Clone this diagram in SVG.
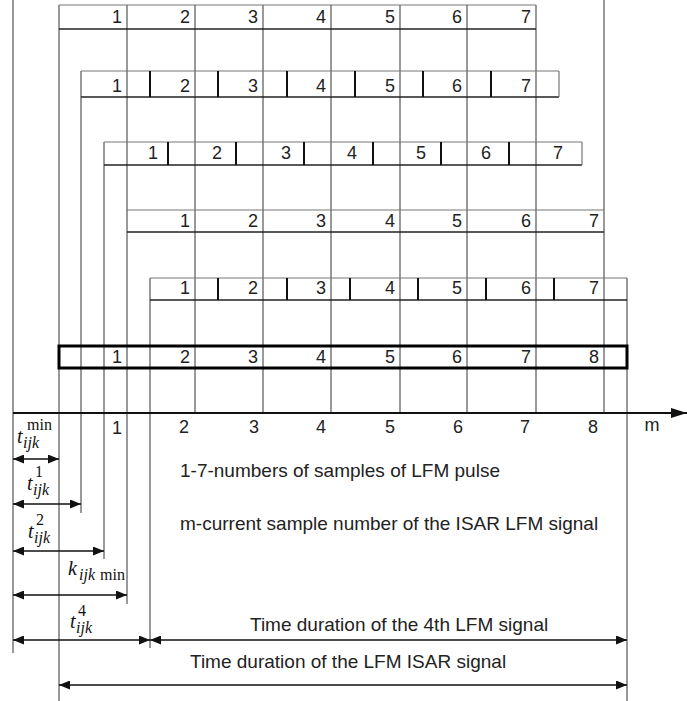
<svg xmlns="http://www.w3.org/2000/svg" width="687" height="701" viewBox="0 0 687 701">
<style>
.g{stroke:#555;stroke-width:1.2;fill:none}
.b{stroke:#222;stroke-width:1.5;fill:none}
.t{stroke:#777;stroke-width:1.2;fill:none}
.d{stroke:#111;stroke-width:2;fill:none}
.n{font-family:"Liberation Sans",Arial,sans-serif;font-size:18px;fill:#222;text-anchor:end}
.c{font-family:"Liberation Sans",Arial,sans-serif;font-size:18px;fill:#222;text-anchor:middle}
.l{font-family:"Liberation Sans",Arial,sans-serif;font-size:19px;fill:#222}
.m{font-family:"Liberation Serif","Times New Roman",serif;fill:#111}
.ar{stroke:#111;stroke-width:1.3;fill:none}
</style>
<defs>
<marker id="ah" viewBox="0 0 11 9" refX="11" refY="4.5" markerWidth="11" markerHeight="9" orient="auto-start-reverse" markerUnits="userSpaceOnUse"><path d="M0,0 L11,4.5 L0,9 z" fill="#111"/></marker>
<marker id="axh" viewBox="0 0 16 10" refX="16" refY="5" markerWidth="16" markerHeight="10" orient="auto" markerUnits="userSpaceOnUse"><path d="M0,0 L16,5 L0,10 z" fill="#111"/></marker>
</defs>
<rect width="687" height="701" fill="#fff"/>

<g id="grid">
<line class="g" x1="13" y1="0" x2="13" y2="653"/>
<line class="g" x1="59" y1="5" x2="59" y2="701"/>
<line class="g" x1="81" y1="71" x2="81" y2="513"/>
<line class="g" x1="104" y1="142" x2="104" y2="559"/>
<line class="g" x1="127" y1="5" x2="127" y2="604"/>
<line class="g" x1="150" y1="278" x2="150" y2="648"/>
<line class="g" x1="195" y1="5" x2="195" y2="413"/>
<line class="g" x1="263" y1="5" x2="263" y2="413"/>
<line class="g" x1="331" y1="5" x2="331" y2="413"/>
<line class="g" x1="400" y1="5" x2="400" y2="413"/>
<line class="g" x1="467" y1="5" x2="467" y2="413"/>
<line class="g" x1="536" y1="5" x2="536" y2="413"/>
<line class="g" x1="604" y1="0" x2="604" y2="413"/>
<line class="g" x1="627" y1="278" x2="627" y2="701"/>
</g>

<g id="row1">
<line class="t" x1="59" y1="5" x2="536" y2="5"/>
<line class="b" x1="59" y1="29" x2="536" y2="29"/>
<text class="n" x="122" y="23">1</text><text class="n" x="190" y="23">2</text><text class="n" x="258" y="23">3</text><text class="n" x="326" y="23">4</text><text class="n" x="395" y="23">5</text><text class="n" x="462" y="23">6</text><text class="n" x="531" y="23">7</text>
</g>

<g id="row2">
<line class="t" x1="81" y1="71" x2="559" y2="71"/>
<line class="b" x1="81" y1="97" x2="559" y2="97"/>
<line class="t" x1="559" y1="71" x2="559" y2="97"/>
<path class="d" d="M150,71V97M218,71V97M287,71V97M355,71V97M423,71V97M491,71V97"/>
<text class="n" x="122" y="92">1</text><text class="n" x="190" y="92">2</text><text class="n" x="258" y="92">3</text><text class="n" x="326" y="92">4</text><text class="n" x="395" y="92">5</text><text class="n" x="462" y="92">6</text><text class="n" x="531" y="92">7</text>
</g>

<g id="row3">
<line class="t" x1="104" y1="142" x2="582" y2="142"/>
<line class="b" x1="104" y1="165" x2="582" y2="165"/>
<line class="t" x1="582" y1="142" x2="582" y2="165"/>
<path class="d" d="M168,142V165M236,142V165M304,142V165M373,142V165M441,142V165M509,142V165"/>
<text class="c" x="153" y="159">1</text><text class="c" x="217" y="159">2</text><text class="c" x="286" y="159">3</text><text class="c" x="352" y="159">4</text><text class="c" x="421" y="159">5</text><text class="c" x="486" y="159">6</text><text class="c" x="558" y="159">7</text>
</g>

<g id="row4">
<line class="t" x1="127" y1="210" x2="604" y2="210"/>
<line class="b" x1="127" y1="232" x2="604" y2="232"/>
<text class="n" x="190" y="227">1</text><text class="n" x="258" y="227">2</text><text class="n" x="326" y="227">3</text><text class="n" x="395" y="227">4</text><text class="n" x="462" y="227">5</text><text class="n" x="531" y="227">6</text><text class="n" x="599" y="227">7</text>
</g>

<g id="row5">
<line class="t" x1="150" y1="278" x2="627" y2="278"/>
<line class="b" x1="150" y1="300" x2="627" y2="300"/>
<path class="d" d="M218,278V300M287,278V300M350,278V300M418,278V300M486,278V300M554,278V300"/>
<text class="n" x="190" y="294">1</text><text class="n" x="258" y="294">2</text><text class="n" x="326" y="294">3</text><text class="n" x="395" y="294">4</text><text class="n" x="462" y="294">5</text><text class="n" x="531" y="294">6</text><text class="n" x="599" y="294">7</text>
</g>

<g id="row6">
<rect x="59" y="346" width="568" height="22" fill="none" stroke="#000" stroke-width="3"/>
<text class="n" x="122" y="363">1</text><text class="n" x="190" y="363">2</text><text class="n" x="258" y="363">3</text><text class="n" x="326" y="363">4</text><text class="n" x="395" y="363">5</text><text class="n" x="462" y="363">6</text><text class="n" x="531" y="363">7</text><text class="n" x="599" y="363">8</text>
</g>

<g id="axis">
<line x1="13" y1="413" x2="687" y2="413" stroke="#111" stroke-width="2.2" marker-end="url(#axh)"/>
<text class="c" x="117" y="434">1</text><text class="c" x="184" y="433">2</text><text class="c" x="254" y="433">3</text><text class="c" x="321" y="433">4</text><text class="c" x="390" y="433">5</text><text class="c" x="458" y="433">6</text><text class="c" x="525" y="433">7</text><text class="c" x="593" y="433">8</text><text class="c" x="652" y="431">m</text>
</g>

<g id="legend">
<text class="l" x="180" y="477">1-7-numbers of samples of LFM pulse</text>
<text class="l" x="180" y="530">m-current sample number of the ISAR LFM signal</text>
<text class="l" x="250" y="631">Time duration of the 4th LFM signal</text>
<text class="l" x="190" y="668">Time duration of the LFM ISAR signal</text>
</g>

<g id="labels">
<text class="m" x="17" y="443" font-style="italic" font-size="20">t</text>
<text class="m" x="23" y="448" font-style="italic" font-size="16">ijk</text>
<text class="m" x="27" y="430" font-size="16">min</text>

<text class="m" x="27" y="490" font-style="italic" font-size="20">t</text>
<text class="m" x="33" y="495" font-style="italic" font-size="16">ijk</text>
<text class="m" x="35" y="477" font-size="16">1</text>

<text class="m" x="28" y="538" font-style="italic" font-size="20">t</text>
<text class="m" x="34" y="543" font-style="italic" font-size="16">ijk</text>
<text class="m" x="36" y="525" font-size="16">2</text>

<text class="m" x="68" y="575" font-style="italic" font-size="20">k</text>
<text class="m" x="79" y="580" font-style="italic" font-size="16">ijk</text>
<text class="m" x="100" y="580" font-size="16">min</text>

<text class="m" x="70" y="628" font-style="italic" font-size="20">t</text>
<text class="m" x="76" y="633" font-style="italic" font-size="16">ijk</text>
<text class="m" x="78" y="616" font-size="16">4</text>
</g>

<g id="connectors">
<line class="ar" x1="13" y1="459" x2="59" y2="459" marker-start="url(#ah)" marker-end="url(#ah)"/>
<line class="ar" x1="13" y1="504" x2="81" y2="504" marker-start="url(#ah)" marker-end="url(#ah)"/>
<line class="ar" x1="13" y1="551" x2="104" y2="551" marker-start="url(#ah)" marker-end="url(#ah)"/>
<line class="ar" x1="13" y1="595" x2="127" y2="595" marker-start="url(#ah)" marker-end="url(#ah)"/>
<line class="ar" x1="13" y1="640" x2="150" y2="640" marker-start="url(#ah)" marker-end="url(#ah)"/>
<line class="ar" x1="150" y1="640" x2="627" y2="640" marker-start="url(#ah)" marker-end="url(#ah)"/>
<line class="ar" x1="59" y1="685" x2="627" y2="685" marker-start="url(#ah)" marker-end="url(#ah)"/>
</g>
</svg>
